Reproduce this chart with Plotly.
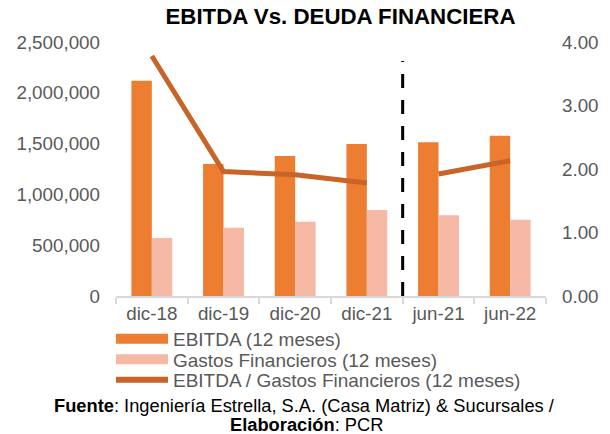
import plotly.graph_objects as go

categories = ["dic-18", "dic-19", "dic-20", "dic-21", "jun-21", "jun-22"]
ebitda = [2119000, 1299000, 1378000, 1496000, 1513000, 1578000]
gastos = [571000, 672000, 731000, 846000, 794000, 751000]
ratio_hist = [3.78, 1.96, 1.91, 1.78]
ratio_int = [1.92, 2.13]
n_hist = 4

C_EB = "#ED7D31"
C_GF = "#F5B9A5"
C_LN = "#C86428"
GRAY = "#595959"
FONT = "Liberation Sans, Arial, sans-serif"

fig = go.Figure()
fig.add_trace(go.Bar(x=categories, y=ebitda, marker=dict(color=C_EB, line=dict(width=0)),
                     showlegend=False, yaxis="y"))
fig.add_trace(go.Bar(x=categories, y=gastos, marker=dict(color=C_GF, line=dict(width=0)),
                     showlegend=False, yaxis="y"))
fig.add_trace(go.Scatter(x=categories[:n_hist], y=ratio_hist, mode="lines",
                         line=dict(color=C_LN, width=5), yaxis="y2", showlegend=False))
fig.add_trace(go.Scatter(x=categories[n_hist:], y=ratio_int, mode="lines",
                         line=dict(color=C_LN, width=5), yaxis="y2", showlegend=False))

# legend entries
fig.add_trace(go.Scatter(x=[categories[0]], y=[None], mode="lines", name="EBITDA (12 meses)",
                         line=dict(color=C_EB, width=10), legend="legend", hoverinfo="skip"))
fig.add_trace(go.Scatter(x=[categories[0]], y=[None], mode="lines", name="Gastos Financieros (12 meses)",
                         line=dict(color=C_GF, width=10), legend="legend2", hoverinfo="skip"))
fig.add_trace(go.Scatter(x=[categories[0]], y=[None], mode="lines", name="EBITDA / Gastos Financieros (12 meses)",
                         line=dict(color=C_LN, width=6), legend="legend3", hoverinfo="skip"))

H = 434
PL, PT, PW, PH = 116, 42, 430, 254

def px_x(px):
    return (px - PL) / PW

def px_y(py):
    return (PT + PH - py) / PH

def leg(ycen):
    return dict(xref="container", yref="container", x=111 / 610, y=1 - ycen / H,
                xanchor="left", yanchor="middle", font=dict(family=FONT, size=19, color=GRAY),
                itemwidth=52, bgcolor="rgba(0,0,0,0)", borderwidth=0)

fig.update_layout(
    width=610, height=434,
    margin=dict(l=PL, r=610 - PL - PW, t=PT, b=H - PT - PH, autoexpand=False),
    paper_bgcolor="white", plot_bgcolor="white",
    barmode="group", bargap=0.43, bargroupgap=0,
    title=dict(text="<b>EBITDA Vs. DEUDA FINANCIERA</b>", xref="container", yref="container",
               x=340.5 / 610, y=1 - 16.5 / H, xanchor="center", yanchor="middle",
               font=dict(family=FONT, size=22.3, color="black")),
    font=dict(family=FONT, color=GRAY),
    xaxis=dict(type="category", showline=True, linecolor="#D9D9D9", linewidth=1.5,
               ticks="outside", tickson="boundaries", ticklen=6, tickcolor="#D9D9D9", tickwidth=1.5,
               tickfont=dict(family=FONT, size=18.8, color=GRAY), showgrid=False, automargin=False),
    yaxis=dict(range=[0, 2500000], dtick=500000, tickformat=",", showgrid=False, zeroline=False,
               showline=False, ticklabelstandoff=15, automargin=False,
               tickfont=dict(family=FONT, size=18.8, color=GRAY)),
    yaxis2=dict(range=[0, 4], dtick=1, tickformat=".2f", overlaying="y", side="right",
                showgrid=False, zeroline=False, showline=False, ticklabelstandoff=15, automargin=False,
                tickfont=dict(family=FONT, size=18.8, color=GRAY)),
    legend=leg(339), legend2=leg(359.5), legend3=leg(380),
    shapes=[dict(type="line", xref="x", yref="paper", x0=n_hist - 0.5, x1=n_hist - 0.5,
                 y0=0, y1=px_y(61), line=dict(color="black", width=3, dash="14px,12px"))],
    annotations=[
        dict(text="<b>Fuente</b>: Ingeniería Estrella, S.A. (Casa Matriz) & Sucursales /",
             xref="paper", yref="paper", x=px_x(304.5), y=px_y(405),
             xanchor="center", yanchor="middle", showarrow=False,
             font=dict(family=FONT, size=18.3, color="black")),
        dict(text="<b>Elaboración</b>: PCR",
             xref="paper", yref="paper", x=px_x(306), y=px_y(424),
             xanchor="center", yanchor="middle", showarrow=False,
             font=dict(family=FONT, size=18.3, color="black")),
    ],
)

fig.write_html("out.html", config={"displayModeBar": False},
               post_script="document.body.style.margin='0';")
